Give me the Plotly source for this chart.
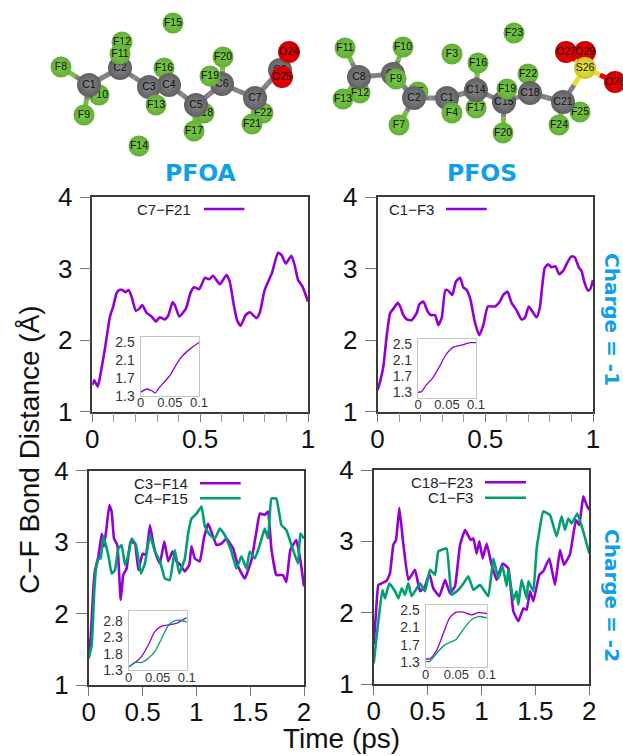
import plotly.graph_objects as go

W, H = 623, 756
PURPLE = "#9400D3"
GREEN = "#009E73"
BLUE = "#0E9FE8"
SANS = "Liberation Sans"

# ---- main curves -------------------------------------------------------
tl_t = [0,.009,.025,.043,.059,.082,.097,.113,.125,.140,.153,.168,.182,.202,.218,.231,.252,.275,.295,.313,.336,.353,.372,.383,.403,.434,.455,.472,.495,.522,.542,.560,.591,.622,.637,.656,.671,.687,.711,.730,.761,.776,.799,.833,.861,.877,.897,.923,.938,.954,.974,1]
tl_v = [1.37,1.44,1.35,1.61,1.89,2.33,2.47,2.66,2.70,2.70,2.67,2.70,2.61,2.41,2.44,2.49,2.38,2.33,2.26,2.32,2.29,2.35,2.53,2.49,2.33,2.44,2.66,2.74,2.71,2.87,2.85,2.90,2.78,2.91,2.82,2.49,2.28,2.20,2.35,2.39,2.31,2.38,2.70,2.94,3.22,3.19,3.07,3.18,3.05,2.84,2.75,2.54]

tr_t = [0,.012,.028,.043,.059,.074,.094,.105,.120,.136,.159,.182,.194,.213,.231,.247,.267,.282,.298,.315,.329,.347,.364,.383,.398,.414,.432,.451,.472,.491,.512,.545,.568,.583,.603,.622,.645,.668,.684,.702,.738,.753,.776,.792,.807,.826,.843,.864,.880,.900,.915,.935,.946,.961,.977,.988,1]
tr_v = [1.30,1.42,1.65,2.07,2.38,2.44,2.52,2.47,2.35,2.29,2.28,2.38,2.50,2.54,2.41,2.35,2.35,2.21,2.31,2.70,2.69,2.63,2.82,2.87,2.74,2.70,2.56,2.26,2.07,2.21,2.47,2.47,2.54,2.63,2.68,2.52,2.42,2.29,2.31,2.47,2.32,2.45,3.01,3.06,3.02,3.03,2.92,2.98,3.08,3.17,3.16,3.01,2.97,2.80,2.69,2.72,2.84]

bl_p_t = [0,.019,.043,.059,.090,.121,.142,.167,.192,.213,.235,.266,.297,.321,.352,.389,.430,.461,.501,.532,.569,.600,.631,.662,.702,.739,.779,.816,.853,.893,.934,.955,.986,1.032,1.070,1.110,1.150,1.187,1.233,1.280,1.342,1.388,1.450,1.512,1.558,1.589,1.635,1.666,1.697,1.743,1.805,1.836,1.873,1.929,1.966,2]
bl_p_v = [1.42,1.68,2.35,2.61,2.80,3.12,2.94,3.22,3.52,3.43,3.05,2.96,2.19,2.54,2.63,3.01,2.98,2.61,2.84,2.82,3.24,2.98,2.80,2.70,3.01,2.73,2.87,2.73,2.68,2.59,2.68,2.94,2.77,2.73,3.05,3.26,3.10,2.96,2.98,3.05,2.91,2.66,2.49,2.75,3.15,3.40,3.38,3.43,2.91,2.54,2.54,2.44,2.89,3.03,2.75,2.38]
bl_g_t = [0,.028,.053,.068,.090,.111,.136,.182,.213,.244,.275,.306,.337,.368,.399,.439,.485,.522,.569,.615,.662,.708,.754,.801,.841,.893,.924,.955,1.002,1.048,1.079,1.125,1.172,1.218,1.264,1.326,1.372,1.419,1.465,1.496,1.543,1.589,1.635,1.666,1.697,1.743,1.790,1.836,1.883,1.944,1.966,2]
bl_g_v = [1.37,1.56,2.35,2.63,2.77,2.77,3.08,2.82,2.56,2.61,2.91,2.96,2.68,2.82,3.05,2.96,2.56,2.70,3.10,2.87,2.73,2.49,2.47,2.89,2.56,2.77,3.12,3.33,3.40,3.50,3.22,3.10,3.05,3.19,3.10,2.87,2.63,2.80,2.63,2.87,2.77,2.96,3.19,3.05,3.61,3.61,3.24,3.17,2.96,2.70,3.12,3.05]

br_p_t = [0,.022,.043,.074,.121,.151,.182,.207,.238,.269,.321,.383,.430,.476,.516,.553,.609,.662,.708,.754,.801,.847,.899,.924,.955,.980,1.011,1.048,1.094,1.141,1.196,1.249,1.295,1.342,1.388,1.419,1.450,1.481,1.536,1.573,1.629,1.682,1.728,1.765,1.821,1.876,1.907,1.944,1.975,2]
br_p_v = [1.55,2.02,2.39,2.41,2.45,2.55,2.95,3.02,3.47,3.04,2.46,2.60,2.30,2.37,2.55,2.34,2.23,2.46,2.27,2.37,2.95,3.16,3.02,3.04,2.83,3.00,2.76,2.97,2.67,2.46,2.69,2.62,2.02,1.88,2.06,2.04,2.30,2.16,2.53,2.58,2.76,2.39,2.88,2.67,2.82,3.30,3.23,3.63,3.51,3.44]
br_g_t = [0,.043,.080,.105,.145,.198,.229,.260,.291,.321,.352,.430,.476,.522,.569,.600,.677,.723,.785,.832,.878,.924,.986,1.063,1.110,1.156,1.196,1.233,1.249,1.295,1.326,1.342,1.372,1.419,1.434,1.481,1.512,1.573,1.635,1.697,1.743,1.774,1.805,1.836,1.889,1.944,2]
br_g_v = [1.29,1.88,2.32,2.20,2.41,2.30,2.20,2.34,2.25,2.41,2.23,2.41,2.30,2.60,2.53,2.86,2.90,2.25,2.32,2.41,2.51,2.32,2.39,2.23,2.76,2.48,2.65,2.37,2.60,2.18,2.30,2.11,2.46,2.20,2.44,2.30,2.90,3.42,3.37,3.07,3.35,3.16,3.32,3.25,3.39,3.14,2.83]

# ---- inset curves ------------------------------------------------------
itl_t = [0,.011,.019,.025,.030,.040,.050,.062,.073,.087,.1]
itl_v = [1.38,1.45,1.41,1.36,1.45,1.60,1.75,2.02,2.21,2.37,2.49]
itr_t = [0,.006,.014,.025,.037,.048,.061,.075,.090,.1]
itr_v = [1.30,1.32,1.48,1.65,1.94,2.23,2.42,2.47,2.53,2.53]
ibl_p_t = [0,.011,.022,.034,.045,.057,.071,.083,.1]
ibl_p_v = [1.40,1.53,1.71,2.07,2.47,2.64,2.68,2.73,2.90]
ibl_g_t = [0,.011,.022,.034,.045,.057,.069,.080,.091,.1]
ibl_g_v = [1.38,1.53,1.53,1.66,1.86,2.27,2.68,2.81,2.81,2.76]
ibr_p_t = [0,.007,.018,.029,.039,.050,.061,.075,.086,.1]
ibr_p_v = [1.38,1.38,1.58,1.97,2.32,2.45,2.45,2.39,2.44,2.42]
ibr_g_t = [0,.007,.018,.031,.050,.061,.075,.086,.1]
ibr_g_v = [1.32,1.32,1.51,1.70,1.83,2.05,2.28,2.35,2.32]

# ---- molecules ----------------------------------------------------------
pfoa_names = ["F15","F14","F10","F18","F22","C8","F12","C1","C2","F11","F8","F9","F16","C4","C3","F13","C5","F17","C6","F20","F19","C7","F21","O24","O25"]
pfoa_x = [173,139,99,204,263,280,122,89,120,120,61,84,164,169,149,156,196,194,222,223,210,255,252,289,282]
pfoa_y = [23,146,95,113,113,70,42,85,68,54,67,115,68,85,87,105,105,131,84,57,76,98,124,52,77]
pfoa_bonds = ["C1-C2","C2-C3","C3-C4","C4-C5","C5-C6","C6-C7","C7-C8","C1-F8","C1-F9","C1-F10","C2-F11","C2-F12","C3-F13","C4-F16","C5-F17","C5-F18","C6-F19","C6-F20","C7-F21","C7-F22","C8-O24","C8-O25"]

pfos_names = ["F23","F3","F12","F5","F17","F25","F11","F13","F10","C8","C9","F9","C2","C1","F4","F16","C14","F22","C15","F19","C18","C21","F7","F20","F24","O27","O29","O28","S26"]
pfos_x = [514,452,360,418,476,580,345,343,403,359,393,396,414,447,452,478,476,528,504,507,530,563,399,503,559,566,585,615,585]
pfos_y = [33,54,93,92,108,112,48,99,47,77,74,79,98,98,113,63,90,74,102,89,93,102,125,133,125,52,52,82,68]
pfos_bonds = ["C8-C9","C9-C2","C2-C1","C1-C14","C14-C15","C15-C18","C18-C21","C21-S26","S26-O27","S26-O28","S26-O29","C8-F11","C8-F12","C8-F13","C9-F10","C9-F9","C2-F7","C2-F5","C1-F4","C14-F16","C14-F17","C15-F19","C15-F20","C18-F22","C21-F24","C21-F25"]

ELEMENT = {
    "F": dict(edge="#62AE38", mid="#7CCC46", size=21, bond="#74C040"),
    "C": dict(edge="#606062", mid="#868688", size=24, bond="#808082"),
    "O": dict(edge="#CC0000", mid="#F60000", size=22, bond="#EE0000"),
    "S": dict(edge="#CCC424", mid="#F2EA40", size=22, bond="#E8E030"),
}

# Panel frames in page pixels: x0, x1, y_top, y_bottom
panels = [
    dict(frame=(92.3, 308, 197, 411.7), xr=[0, 1], xt=[0, .5, 1], xl=["0", "0.5", "1"], minor=[.1, .2, .3, .4, .6, .7, .8, .9], smooth=0.5,
         curves=[(tl_t, tl_v, PURPLE)], inset=(140.7, 199, 336.7, 395.7), iy=[1.3, 2.62], it=[1.3, 1.7, 2.1, 2.5],
         icurves=[(itl_t, itl_v, PURPLE)]),
    dict(frame=(377.5, 593, 197, 411.7), xr=[0, 1], xt=[0, .5, 1], xl=["0", "0.5", "1"], minor=[.1, .2, .3, .4, .6, .7, .8, .9], smooth=0.5,
         curves=[(tr_t, tr_v, PURPLE)], inset=(418, 476, 339, 397.7), iy=[1.17, 2.62], it=[1.3, 1.7, 2.1, 2.5],
         icurves=[(itr_t, itr_v, PURPLE)]),
    dict(frame=(88.7, 304, 470.7, 685), xr=[0, 2], xt=[0, .5, 1, 1.5, 2], xl=["0", "0.5", "1", "1.5", "2"], minor=[], smooth=0.3,
         curves=[(bl_p_t, bl_p_v, PURPLE), (bl_g_t, bl_g_v, GREEN)], inset=(128.7, 186.7, 611, 670), iy=[1.3, 3.1], it=[1.3, 1.8, 2.3, 2.8],
         icurves=[(ibl_p_t, ibl_p_v, PURPLE), (ibl_g_t, ibl_g_v, GREEN)]),
    dict(frame=(373.7, 589.3, 470, 684), xr=[0, 2], xt=[0, .5, 1, 1.5, 2], xl=["0", "0.5", "1", "1.5", "2"], minor=[], smooth=0.3,
         curves=[(br_p_t, br_p_v, PURPLE), (br_g_t, br_g_v, GREEN)], inset=(425.7, 487, 605, 667.3), iy=[1.185, 2.615], it=[1.3, 1.7, 2.1, 2.5],
         icurves=[(ibr_p_t, ibr_p_v, PURPLE), (ibr_g_t, ibr_g_v, GREEN)]),
]

legends = [
    ("C7\u2212F21", 192.7, 209, 204, 244.3, PURPLE),
    ("C1\u2212F3", 436, 209, 446, 486.7, PURPLE),
    ("C3\u2212F14", 190, 483.3, 200, 240.7, PURPLE),
    ("C4\u2212F15", 190, 498.3, 200, 240.7, GREEN),
    ("C18\u2212F23", 475, 482.3, 485, 526, PURPLE),
    ("C1\u2212F3", 475, 497.7, 485, 526, GREEN),
]

fig = go.Figure()
layout = dict(
    width=W, height=H, autosize=False, showlegend=False,
    margin=dict(l=0, r=0, t=0, b=0, pad=0, autoexpand=False), paper_bgcolor="white", plot_bgcolor="rgba(0,0,0,0)",
    font=dict(family=SANS, color="#111"),
)


def add_axes(n, frame, x_opts, y_opts):
    x0, x1, yt, yb = frame
    sx = "" if n == 1 else str(n)
    layout["xaxis" + sx] = dict(domain=[x0 / W, x1 / W], anchor="y" + sx, **x_opts)
    layout["yaxis" + sx] = dict(domain=[1 - yb / H, 1 - yt / H], anchor="x" + sx, **y_opts)
    return ("x" + sx, "y" + sx)


n = 1
for p in panels:
    xa, ya = add_axes(n, p["frame"],
        dict(range=p["xr"], tickmode="array", tickvals=p["xt"], ticktext=p["xl"], ticks="outside", ticklen=9, tickwidth=1.2,
             tickcolor="#777", showgrid=False, zeroline=False, showline=True, linecolor="#3a3a3a", linewidth=1.5, mirror=True,
             tickfont=dict(size=26, family=SANS, color="#111"), ticklabelstandoff=-6,
             minor=dict(tickmode="array", tickvals=p["minor"], ticks="outside", ticklen=9, tickwidth=1.2, tickcolor="#999", showgrid=False)),
        dict(range=[1, 4], tickmode="array", tickvals=[1, 2, 3, 4], ticktext=["1", "2", "3", "4"], ticks="outside", ticklen=11, tickwidth=1.2,
             tickcolor="#777", showgrid=False, zeroline=False, showline=True, linecolor="#3a3a3a", linewidth=1.5, mirror=True,
             tickfont=dict(size=26, family=SANS, color="#111"), ticklabelstandoff=2))
    for t, v, c in p["curves"]:
        fig.add_trace(go.Scatter(x=t, y=v, mode="lines", line=dict(color=c, width=2.6, shape="spline", smoothing=p["smooth"]),
                                 xaxis=xa, yaxis=ya, hoverinfo="skip"))
    n += 1
    xa, ya = add_axes(n, p["inset"],
        dict(range=[0, .1], tickmode="array", tickvals=[0, .05, .1], ticktext=["0", "0.05", "0.1"], ticks="", showgrid=False, zeroline=False,
             showline=True, linecolor="#c4c4c4", linewidth=1.2, mirror=True, tickfont=dict(size=13, family=SANS, color="#333"), ticklabelstandoff=-5),
        dict(range=p["iy"], tickmode="array", tickvals=p["it"], ticktext=[f"{a:.1f}" for a in p["it"]], ticks="", showgrid=False, zeroline=False,
             showline=True, linecolor="#c4c4c4", linewidth=1.2, mirror=True, tickfont=dict(size=14, family=SANS, color="#333"), ticklabelstandoff=2))
    for t, v, c in p["icurves"]:
        fig.add_trace(go.Scatter(x=t, y=v, mode="lines", line=dict(color=c, width=1.3, shape="spline", smoothing=0.6),
                                 xaxis=xa, yaxis=ya, hoverinfo="skip"))
    n += 1

# Page overlay in pixel units: molecules, legend samples and free text
ox, oy = add_axes(n, (0, W, 0, H),
                  dict(range=[0, W], visible=False, fixedrange=True),
                  dict(range=[H, 0], visible=False, fixedrange=True))


def add_atom(name, x, y):
    e = ELEMENT[name[0]]
    fig.add_trace(go.Scatter(
        x=[x], y=[y], mode="markers+text", text=[name], textposition="middle center",
        textfont=dict(size=10.5, family=SANS, color="#111"),
        marker=dict(size=e["size"], color=e["edge"], line=dict(width=0), gradient=dict(type="radial", color=e["mid"])),
        xaxis=ox, yaxis=oy, hoverinfo="skip", cliponaxis=False))


def add_molecule(names, xs, ys, bonds):
    pos = {a: (x, y) for a, x, y in zip(names, xs, ys)}
    segs = {}
    for b in bonds:
        a1, a2 = b.split("-")
        (x1, y1), (x2, y2) = pos[a1], pos[a2]
        mx, my = (x1 + x2) / 2, (y1 + y2) / 2
        segs.setdefault(ELEMENT[a1[0]]["bond"], []).append((x1, y1, mx, my))
        segs.setdefault(ELEMENT[a2[0]]["bond"], []).append((mx, my, x2, y2))
    for col, lst in segs.items():
        sx, sy = [], []
        for x1, y1, x2, y2 in lst:
            sx += [x1, x2, None]
            sy += [y1, y2, None]
        fig.add_trace(go.Scatter(x=sx, y=sy, mode="lines", line=dict(color=col, width=5), xaxis=ox, yaxis=oy, hoverinfo="skip"))
    for a in names:
        add_atom(a, *pos[a])


add_molecule(pfoa_names, pfoa_x, pfoa_y, pfoa_bonds)
add_molecule(pfos_names, pfos_x, pfos_y, pfos_bonds)

shapes, annotations = [], []


def label(text, x, y, size, family=SANS, color="#111", bold=False, angle=0, anchor="center"):
    annotations.append(dict(text=f"<b>{text}</b>" if bold else text, x=x, y=y, xref=ox, yref=oy, showarrow=False,
                            xanchor=anchor, yanchor="middle", textangle=angle, font=dict(size=size, family=family, color=color)))


for text, xr, y, l0, l1, col in legends:
    label(text, xr, y, 15, color="#222", anchor="right")
    shapes.append(dict(type="line", xref=ox, yref=oy, x0=l0, x1=l1, y0=y, y1=y, line=dict(color=col, width=2.6)))

label("PFOA", 201, 173, 23.5, family="DejaVu Sans", color=BLUE, bold=True)
label("PFOS", 481.7, 173, 23.5, family="DejaVu Sans", color=BLUE, bold=True)
label("Charge = -1", 612, 319, 20, family="DejaVu Sans", color=BLUE, bold=True, angle=90)
label("Charge = -2", 612, 595, 20, family="DejaVu Sans", color=BLUE, bold=True, angle=90)
label("C\u2212F Bond Distance (\u00c5)", 29, 450, 28, angle=-90)
label("Time (ps)", 341, 738, 28)

layout["shapes"] = shapes
layout["annotations"] = annotations
fig.update_layout(**layout)

fig.write_html("out.html", config=dict(displayModeBar=False),
               post_script="document.body.style.margin='0';document.body.style.overflow='hidden';")
